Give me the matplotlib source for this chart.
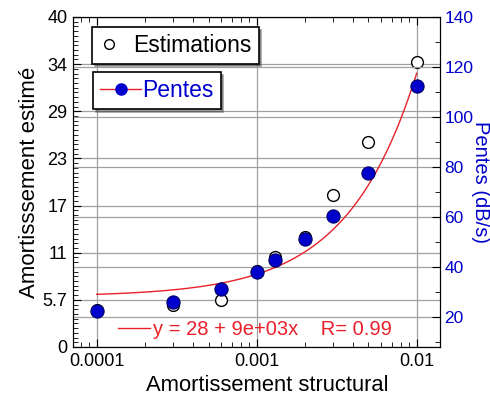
import numpy as np
import matplotlib
matplotlib.use('Agg')
import matplotlib.pyplot as plt
from matplotlib.lines import Line2D
from matplotlib.ticker import FixedLocator, AutoMinorLocator, LogLocator, NullFormatter

plt.rcParams['font.family'] = ['Liberation Sans', 'DejaVu Sans']

# amortissement structural
amort = [0.0001, 0.0003, 0.0006, 0.001, 0.0013, 0.002, 0.003, 0.005, 0.01]
# amortissement estime (left axis)
estimations = [4.5, 5.1, 5.7, 9.2, 10.9, 13.3, 18.4, 24.9, 34.6]
# pentes in dB/s (right axis)
pentes = [22.4, 26.0, 31.0, 37.8, 42.7, 51.0, 60.3, 77.4, 112.4]

left_ticks = [40 / 7 * k for k in range(8)]
left_labels = ['0', '5.7', '11', '17', '23', '29', '34', '40']
right_ticks = [20, 40, 60, 80, 100, 120, 140]
fit_label = 'y = 28 + 9e+03x    R= 0.99'

blue = '#0000cc'
red = '#e8202a'
grid_col = '#a0a0a0'

fig = plt.figure( figsize=( 4.9, 4.01 ), dpi=100 )
ax = fig.add_axes( [ 0.149, 0.1347, 0.749, 0.823 ] )
ax2 = ax.twinx()

ax.set_xscale( 'log' )
ax.set_xlim( 7.11e-5, 0.014 )
ax.set_ylim( 0, 40 )
ax2.set_ylim( 7.9, 140 )

ax.set_xticks( [ 0.0001, 0.001, 0.01 ] )
ax.set_xticklabels( [ '0.0001', '0.001', '0.01' ] )
ax.xaxis.set_minor_locator( LogLocator( base=10, subs=np.arange( 2, 10 ) ) )
ax.xaxis.set_minor_formatter( NullFormatter() )

ax.yaxis.set_major_locator( FixedLocator( left_ticks ) )
ax.set_yticklabels( left_labels )
ax.yaxis.set_minor_locator( AutoMinorLocator( 10 ) )
ax2.set_yticks( right_ticks )
ax2.yaxis.set_minor_locator( AutoMinorLocator( 2 ) )

ax.tick_params( which='both', direction='in', top=True, labelsize=13, pad=4 )
ax.tick_params( which='major', length=6 )
ax.tick_params( which='minor', length=3.5 )
ax2.tick_params( which='both', direction='in', labelsize=12.5, labelcolor=blue, pad=3 )
ax2.tick_params( which='major', length=6 )
ax2.tick_params( which='minor', length=3.5 )

ax.grid( True, which='major', color=grid_col, linewidth=0.9 )
ax2.grid( True, which='major', axis='y', color=grid_col, linewidth=0.9 )
ax.set_axisbelow( True )
ax2.set_axisbelow( True )

# linear fit of the pentes, drawn on the log axis
coef = np.polyfit( amort, pentes, 1 )
xf = np.logspace( np.log10( amort[ 0 ] ), np.log10( amort[ -1 ] ), 200 )
ax2.plot( xf, np.polyval( coef, xf ), color=red, linewidth=1, zorder=2 )

ax.plot( amort, estimations, 'o', markersize=8.5, markerfacecolor='white',
         markeredgecolor='black', markeredgewidth=1, zorder=3 )
ax2.plot( amort, pentes, 'o', markersize=9.5, markerfacecolor=blue,
          markeredgecolor='#000066', markeredgewidth=0.8, zorder=4 )

ax.set_xlabel( 'Amortissement structural', fontsize=15.8 )
ax.xaxis.set_label_coords( 0.529, -0.085, transform=ax.transAxes )
ax.xaxis.label.set_verticalalignment( 'top' )
ax.set_ylabel( 'Amortisssement estimé', fontsize=16, labelpad=2 )
ax2.set_ylabel( 'Pentes (dB/s)', fontsize=14.5, color=blue, rotation=-90,
                va='center' )
ax2.yaxis.set_label_coords( 1.11, 0.5, transform=ax2.transAxes )

h_est = Line2D( [], [], linestyle='none', marker='o', markersize=7,
                markerfacecolor='white', markeredgecolor='black' )
h_pen = Line2D( [], [], color=red, linewidth=1, marker='o', markersize=8,
                markerfacecolor=blue, markeredgecolor=blue )
h_fit = Line2D( [], [], color=red, linewidth=1 )

leg1 = ax2.legend( [ h_est ], [ 'Estimations' ], loc='upper left',
                   bbox_to_anchor=( 0.052, 0.97 ), borderaxespad=0,
                   fontsize=16.5, shadow=True,
                   fancybox=False, framealpha=1, edgecolor='black',
                   handlelength=0.9, handletextpad=0.6, borderpad=0.3 )
leg1.get_frame().set_linewidth( 1.2 )
ax2.add_artist( leg1 )
leg2 = ax2.legend( [ h_pen ], [ 'Pentes' ], loc='upper left',
                   bbox_to_anchor=( 0.055, 0.833 ), borderaxespad=0,
                   fontsize=16.5, shadow=True,
                   fancybox=False, framealpha=1, edgecolor='black',
                   handlelength=1.8, handletextpad=0.05, borderpad=0.3 )
leg2.get_frame().set_linewidth( 1.2 )
for t in leg2.get_texts():
    t.set_color( blue )
ax2.add_artist( leg2 )
leg3 = ax2.legend( [ h_fit ], [ fit_label ], loc='lower left',
                   bbox_to_anchor=( 0.1, 0.0 ), borderaxespad=0.0,
                   fontsize=14.5, frameon=False,
                   handlelength=1.6, handletextpad=0.15 )
for t in leg3.get_texts():
    t.set_color( red )

fig.savefig( 'out.png', dpi=100 )
